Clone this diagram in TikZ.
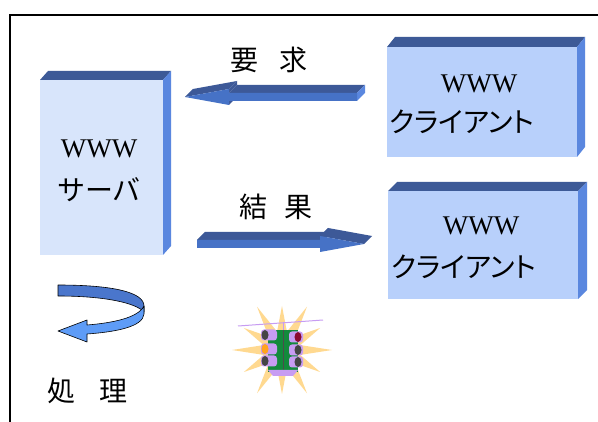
\documentclass[tikz,border=0pt]{standalone}
\usepackage{fontspec}
\setmainfont{Liberation Serif}
\newfontfamily\jpfont{Noto Sans CJK JP}
\newfontfamily\jppfont[RawFeature=+palt]{Noto Sans CJK JP}

\definecolor{topface}{HTML}{3D5A97}
\definecolor{sideface}{HTML}{5A87DF}
\definecolor{clientfill}{HTML}{B8D0FB}
\definecolor{serverfill}{HTML}{D8E5FB}
\definecolor{arrowfront}{HTML}{4672C6}
\definecolor{arrowtop}{HTML}{3D5998}
\definecolor{turndark}{HTML}{4A76CC}
\definecolor{turnlight}{HTML}{5E9CF7}
\definecolor{burst}{HTML}{FFD990}
\definecolor{lamphousing}{HTML}{C79CF2}
\definecolor{signalgreen}{HTML}{138A3C}
\definecolor{lampoff}{HTML}{454545}
\definecolor{lampred}{HTML}{8A0A30}
\definecolor{lampamber}{HTML}{FFA41C}

\tikzset{
  frontface/.style={inner sep=0pt, outer sep=0pt, anchor=north west},
  latin/.style={inner sep=0pt, font=\fontsize{27}{30}\selectfont},
  kana/.style={inner sep=0pt, font=\jpfont\fontsize{28}{30}\selectfont},
  pkana/.style={inner sep=0pt, font=\jppfont\fontsize{28}{30}\selectfont},
  caption/.style={inner sep=0pt, font=\jpfont\fontsize{28}{30}\selectfont},
  turnline/.style={draw=black, line width=0.6pt, line join=round},
}

% top and right faces of a block whose front face is node #1, depth (#2,#3)
\newcommand\blockfaces[3]{%
  \fill[topface] (#1.north west) -- ([shift={(#2,#3)}]#1.north west)
     -- ([shift={(#2,#3)}]#1.north east) -- (#1.north east) -- cycle;
  \fill[sideface] (#1.north east) -- ([shift={(#2,#3)}]#1.north east)
     -- ([shift={(#2,#3)}]#1.south east) -- (#1.south east) -- cycle;
}

\begin{document}
\begin{tikzpicture}[x=1pt,y=-1pt]
\useasboundingbox (0,0) rectangle (598,422);
\fill[white] (0,0) rectangle (598,422);

% outer frame
\draw[line width=2pt] (598,15) -- (10,15) -- (10,422);

% server block
\node[frontface, fill=serverfill, minimum width=123pt, minimum height=175pt] (srv) at (40,80) {};
\blockfaces{srv}{8}{-9}
\node[latin] (srvw) at (99,149) {WWW};
\node[kana] (srvk) at (99,190) {サーバ};

% client blocks
\node[frontface, fill=clientfill, minimum width=190pt, minimum height=110pt] (cla) at (387,47) {};
\blockfaces{cla}{8}{-10}
\node[latin] (claw) at (479,84) {WWW};
\node[pkana] (clak) at (462,122) {クライアント};

\node[frontface, fill=clientfill, minimum width=190pt, minimum height=108pt] (clb) at (388,191) {};
\blockfaces{clb}{9}{-9}
\node[latin] (clbw) at (481,226) {WWW};
\node[pkana] (clbk) at (464,267) {クライアント};

% request arrow (towards the server)
\fill[arrowtop] (185,97) -- (229,89) -- (237,81) -- (193,89) -- cycle;
\fill[arrowtop] (229,89) -- (229,93) -- (237,85) -- (237,81) -- cycle;
\fill[arrowtop] (229,93) -- (357,93) -- (365,85) -- (237,85) -- cycle;
\fill[sideface] (357,93) -- (357,101) -- (365,93) -- (365,85) -- cycle;
\fill[arrowtop] (229,105) -- (229,101) -- (237,93) -- (237,97) -- cycle;
\fill[arrowfront] (185,97) -- (229,89) -- (229,93) -- (357,93) -- (357,101)
   -- (229,101) -- (229,105) -- cycle;
\node[caption] (req) at (269,60) {要\hspace{21pt}求};

% result arrow (towards the client)
\fill[arrowtop] (197,240) -- (320,240) -- (328,232) -- (205,232) -- cycle;
\fill[arrowtop] (320,240) -- (320,236) -- (328,228) -- (328,232) -- cycle;
\fill[arrowtop] (320,236) -- (364,244) -- (372,236) -- (328,228) -- cycle;
\fill[arrowfront] (197,240) -- (320,240) -- (320,236) -- (364,244) -- (320,252)
   -- (320,248) -- (197,248) -- cycle;
\node[caption] (res) at (276,207) {結\hspace{18pt}果};

% processing loop arrow
\filldraw[turnline, fill=turndark] (58,285) .. controls (112,285) and (144,292) .. (144,306)
   -- (144,312) .. controls (136,303) and (105,296) .. (58,296) -- cycle;
\filldraw[turnline, fill=turnlight] (144,306) -- (144,314)
   .. controls (143,327) and (115,332) .. (87,334) -- (87,342) -- (58,331) -- (87,320)
   -- (87,325) .. controls (112,323) and (138,318) .. (144,306) -- cycle;
\node[caption] (proc) at (88,391) {処\hspace{24pt}理};

% traffic signal clip art: starburst behind the signal
\fill[burst] plot[samples at={0,...,23}, variable=\k]
  ({282+(19+(1-mod(\k,2))*(25+6*mod(\k/2,2)))*cos(\k*15+90)},
   {350+(19+(1-mod(\k,2))*(25+6*mod(\k/2,2)))*sin(\k*15+90)}) -- cycle;
\draw[lamphousing, line width=1pt] (238,326) -- (323,320);
\draw[lamphousing, line width=1pt] (283,322) -- (283,331);
\fill[signalgreen] (268,330) rectangle (298,372);
\draw[black!70, line width=0.6pt] (283,330) -- (283,372);
\fill[lamphousing] (268,370) -- (298,370) -- (293,376) -- (273,376) -- cycle;
\foreach \yy/\lc in {335/lampoff, 349/lampamber, 361/lampoff} {
  \fill[lamphousing, rounded corners=3pt] (261,\yy-5.5) rectangle (277,\yy+5.5);
  \fill[\lc] (265,\yy) ellipse [x radius=3.5pt, y radius=5pt];
}
\foreach \yy/\lc in {337/lampred, 350/lampoff, 362/lampoff} {
  \fill[lamphousing, rounded corners=3pt] (289,\yy-5.5) rectangle (303,\yy+5.5);
  \fill[\lc] (298,\yy) ellipse [x radius=3.5pt, y radius=5pt];
}
\end{tikzpicture}
\end{document}
